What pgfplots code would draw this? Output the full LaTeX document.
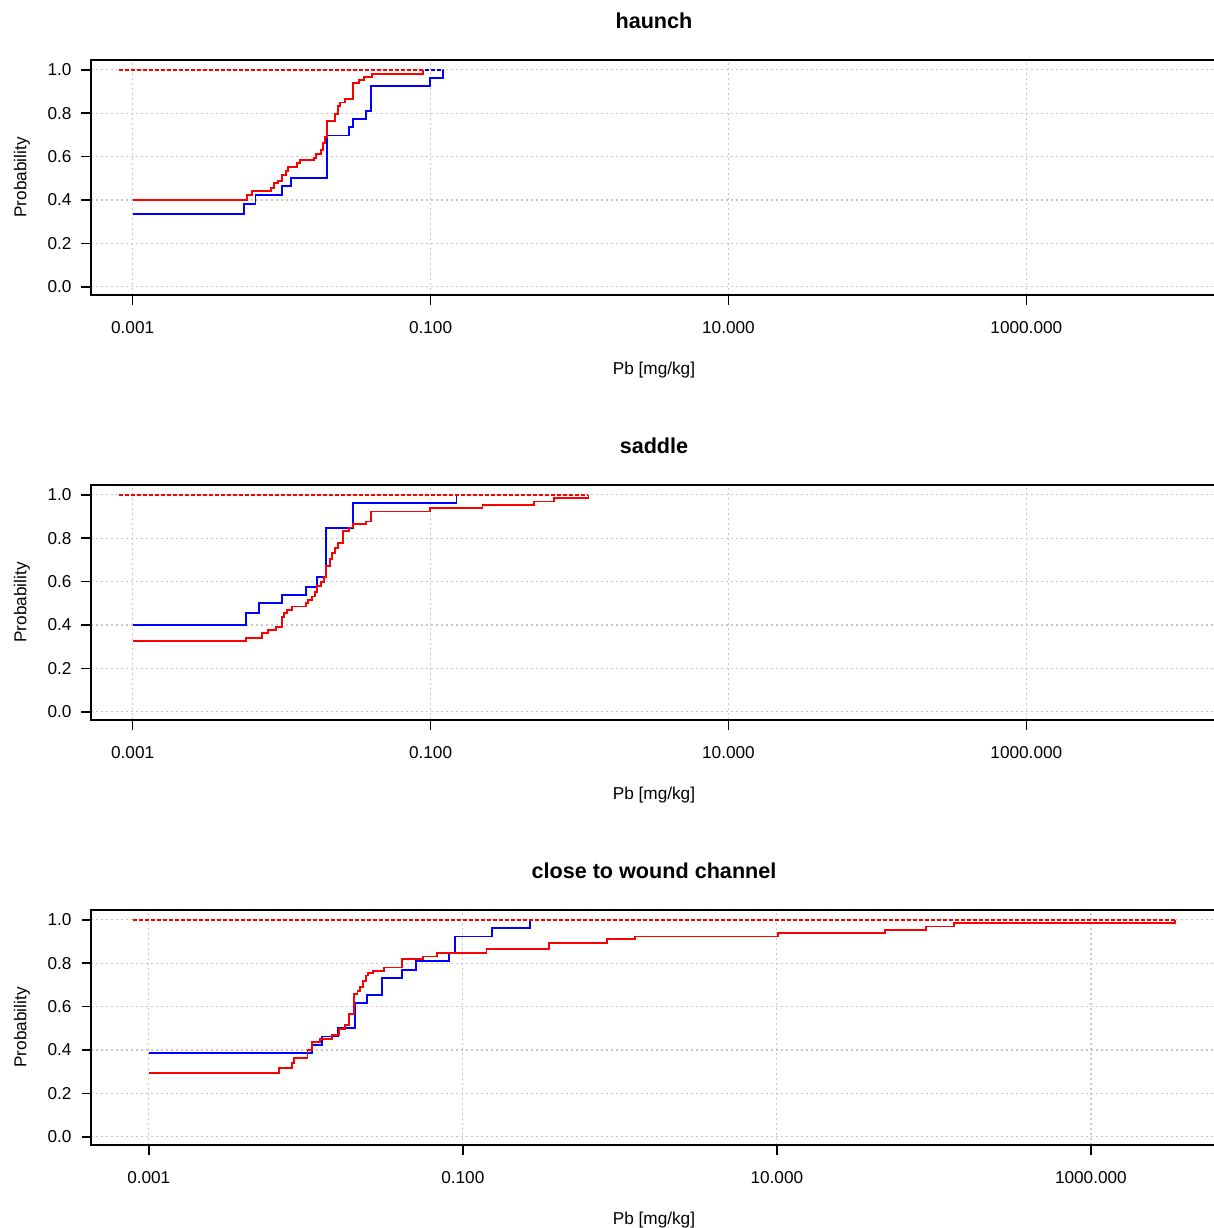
\documentclass[border=0pt]{standalone}
\usepackage{pgfplots}
\pgfplotsset{compat=1.18}
\usepackage{fontspec}
\setmainfont{Liberation Sans}
\definecolor{gridgray}{RGB}{200,200,200}
\pgfplotsset{
  every axis title shift=0pt,
  bl/.style={blue, line width=0.95pt, const plot, mark=none},
  rd/.style={red, line width=0.95pt, const plot, mark=none},
  bld/.style={blue, line width=0.95pt, dash pattern=on 2pt off 1pt, mark=none},
  rdd/.style={red, line width=0.95pt, dash pattern=on 2pt off 1pt, mark=none},
}
\begin{document}
\begin{tikzpicture}
% ---------- haunch ----------
\begin{axis}[at={(45.5pt,-30pt)}, anchor=north west,
    scale only axis, width=563pt, height=117.5pt,
    xmode=log, ymin=-0.038, ymax=1.045,
    xmin=0.000525, xmax=19055,
    ytick={0,0.2,0.4,0.6,0.8,1},
    yticklabels={0.0,0.2,0.4,0.6,0.8,1.0},
    xtick={0.001,0.1,10,1000},
    xticklabels={0.001,0.100,10.000,1000.000},
    xminorticks=false, yminorticks=false,
    tick align=outside, xtick pos=left, ytick pos=left,
    major tick length=4.75pt,
    tick style={black, line width=0.75pt},
    axis line style={black, line width=0.9pt},
    grid=major,
    major grid style={gridgray, line width=0.6pt, dash pattern=on 1pt off 1.5pt},
    tick label style={font=\fontsize{8.6}{10}\selectfont},
    xticklabel style={yshift=-5pt},
    yticklabel style={xshift=-1.5pt},
    label style={font=\fontsize{8.6}{10}\selectfont},
    title style={font=\bfseries\fontsize{10.8}{13}\selectfont, at={(axis description cs:0.5,1.166)}, anchor=center},
    xlabel={Pb [mg/kg]}, ylabel={Probability},
    x label style={at={(axis description cs:0.5,-0.319)}, anchor=center},
    y label style={at={(axis description cs:-0.0613,0.5)}, anchor=center},
    title={haunch}]
\addplot[bl] coordinates {
(0.001,0.334) (0.00561,0.380) (0.006683,0.423) (0.010093,0.465) (0.011482,0.500)
(0.020091,0.697) (0.028379,0.736) (0.0302,0.774) (0.036728,0.811) (0.040087,0.926)
(0.09886,0.964) (0.12162,1.0)};
\addplot[bld] coordinates {(0.000805,1) (0.12162,1)};
\addplot[rd] coordinates {
(0.001,0.400) (0.005875,0.423) (0.006339,0.442) (0.008433,0.457) (0.008872,0.477)
(0.009484,0.488) (0.010093,0.515) (0.010641,0.534) (0.011015,0.554) (0.012735,0.569)
(0.013213,0.583) (0.016482,0.595) (0.0171,0.612) (0.01845,0.631) (0.019055,0.662)
(0.019543,0.692) (0.020091,0.765) (0.022803,0.796) (0.024044,0.831) (0.02466,0.849)
(0.026546,0.865) (0.030339,0.939) (0.033113,0.954) (0.035727,0.966) (0.040644,0.982)
(0.08954,1.0)};
\addplot[rdd] coordinates {(0.000805,1) (0.08954,1)};
\end{axis}
% ---------- saddle ----------
\begin{axis}[at={(45.5pt,-242.5pt)}, anchor=north west,
    scale only axis, width=563pt, height=117.5pt,
    xmode=log, ymin=-0.038, ymax=1.045,
    xmin=0.000525, xmax=19055,
    ytick={0,0.2,0.4,0.6,0.8,1},
    yticklabels={0.0,0.2,0.4,0.6,0.8,1.0},
    xtick={0.001,0.1,10,1000},
    xticklabels={0.001,0.100,10.000,1000.000},
    xminorticks=false, yminorticks=false,
    tick align=outside, xtick pos=left, ytick pos=left,
    major tick length=4.75pt,
    tick style={black, line width=0.75pt},
    axis line style={black, line width=0.9pt},
    grid=major,
    major grid style={gridgray, line width=0.6pt, dash pattern=on 1pt off 1.5pt},
    tick label style={font=\fontsize{8.6}{10}\selectfont},
    xticklabel style={yshift=-5pt},
    yticklabel style={xshift=-1.5pt},
    label style={font=\fontsize{8.6}{10}\selectfont},
    title style={font=\bfseries\fontsize{10.8}{13}\selectfont, at={(axis description cs:0.5,1.166)}, anchor=center},
    xlabel={Pb [mg/kg]}, ylabel={Probability},
    x label style={at={(axis description cs:0.5,-0.319)}, anchor=center},
    y label style={at={(axis description cs:-0.0613,0.5)}, anchor=center},
    title={saddle}]
\addplot[bl] coordinates {
(0.001,0.400) (0.005728,0.454) (0.007031,0.500) (0.010093,0.539) (0.014488,0.577)
(0.017179,0.622) (0.019953,0.846) (0.0302,0.962) (0.14928,1.0)};
\addplot[bld] coordinates {(0.000805,1) (0.14928,1)};
\addplot[rd] coordinates {
(0.001,0.326) (0.005728,0.341) (0.007413,0.362) (0.008091,0.377) (0.00912,0.392)
(0.010093,0.438) (0.010375,0.457) (0.010914,0.469) (0.011803,0.485) (0.014488,0.500)
(0.015031,0.515) (0.015922,0.531) (0.016672,0.554) (0.017338,0.580) (0.018281,0.597)
(0.019231,0.623) (0.019953,0.672) (0.021038,0.703) (0.021878,0.731) (0.022803,0.754)
(0.023933,0.777) (0.025942,0.831) (0.028379,0.849) (0.030339,0.865) (0.036728,0.877)
(0.040087,0.923) (0.09886,0.939) (0.22336,0.954) (0.49774,0.969) (0.67764,0.985)
(1.1482,1.0)};
\addplot[rdd] coordinates {(0.000805,1) (1.1482,1)};
\end{axis}
% ---------- close to wound channel ----------
\begin{axis}[at={(45.5pt,-455pt)}, anchor=north west,
    scale only axis, width=563pt, height=117.5pt,
    xmode=log, ymin=-0.038, ymax=1.045,
    xmin=0.0004285, xmax=6353,
    ytick={0,0.2,0.4,0.6,0.8,1},
    yticklabels={0.0,0.2,0.4,0.6,0.8,1.0},
    xtick={0.001,0.1,10,1000},
    xticklabels={0.001,0.100,10.000,1000.000},
    xminorticks=false, yminorticks=false,
    tick align=outside, xtick pos=left, ytick pos=left,
    major tick length=4.75pt,
    tick style={black, line width=0.75pt},
    axis line style={black, line width=0.9pt},
    grid=major,
    major grid style={gridgray, line width=0.6pt, dash pattern=on 1pt off 1.5pt},
    tick label style={font=\fontsize{8.6}{10}\selectfont},
    xticklabel style={yshift=-5pt},
    yticklabel style={xshift=-1.5pt},
    label style={font=\fontsize{8.6}{10}\selectfont},
    title style={font=\bfseries\fontsize{10.8}{13}\selectfont, at={(axis description cs:0.5,1.166)}, anchor=center},
    xlabel={Pb [mg/kg]}, ylabel={Probability},
    x label style={at={(axis description cs:0.5,-0.319)}, anchor=center},
    y label style={at={(axis description cs:-0.0613,0.5)}, anchor=center},
    title={close to wound channel}]
\addplot[bl] coordinates {
(0.001,0.385) (0.01094,0.423) (0.012647,0.462) (0.016032,0.500) (0.020464,0.615)
(0.024604,0.654) (0.030761,0.731) (0.04102,0.769) (0.050582,0.808) (0.081846,0.846)
(0.08954,0.923) (0.15346,0.962) (0.26853,1.0)};
\addplot[bld] coordinates {(0.000791,1) (0.26853,1)};
\addplot[rd] coordinates {
(0.001,0.295) (0.00673,0.318) (0.008128,0.339) (0.008433,0.362) (0.010257,0.400)
(0.01094,0.438) (0.012331,0.451) (0.014588,0.469) (0.016181,0.497) (0.017701,0.515)
(0.01875,0.565) (0.020277,0.657) (0.02133,0.672) (0.022131,0.692) (0.023121,0.719)
(0.02421,0.743) (0.025003,0.754) (0.026915,0.766) (0.031477,0.780) (0.04102,0.819)
(0.055847,0.831) (0.068077,0.846) (0.14158,0.865) (0.354,0.892) (0.82604,0.911)
(1.256,0.923) (10.186,0.939) (48.64,0.954) (89.125,0.969) (134.6,0.985)
(3443.5,1.0)};
\addplot[rdd] coordinates {(0.000791,1) (3443.5,1)};
\end{axis}
\pgfresetboundingbox
\path[use as bounding box] (0pt,0pt) rectangle (607pt,-614pt);
\end{tikzpicture}
\end{document}
